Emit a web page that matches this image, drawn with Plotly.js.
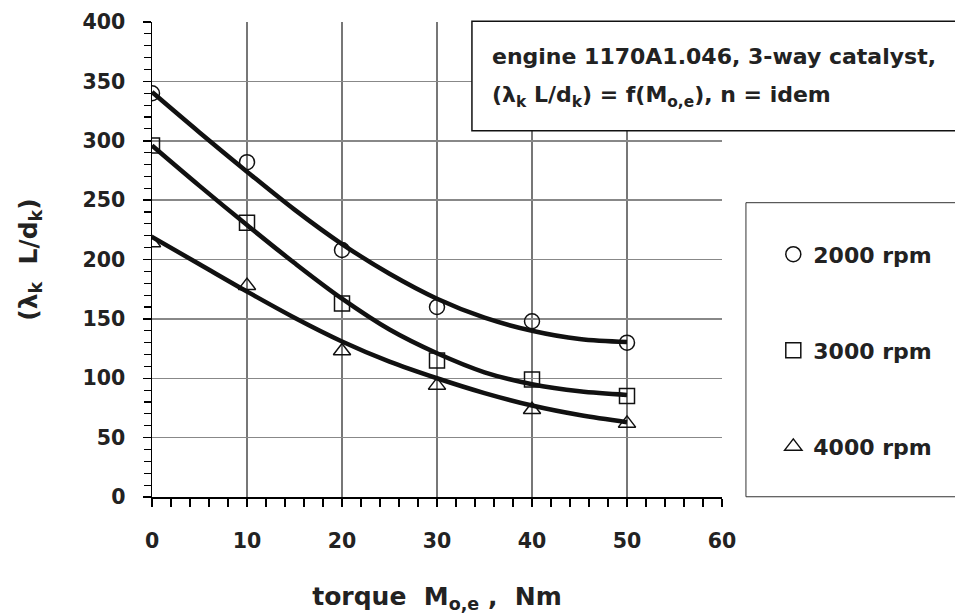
<!DOCTYPE html>
<html>
<head>
<meta charset="utf-8">
<script src="https://cdn.plot.ly/plotly-3.0.1.min.js"></script>
<style>
  html, body { margin: 0; padding: 0; background: #fff; }
  #chart { width: 955px; height: 614px; }
</style>
</head>
<body>
<div id="chart"></div>
<script>
// Measured points
const torque = [0, 10, 20, 30, 40, 50];
const lam2000 = [340, 282, 208, 160, 148, 130];
const lam3000 = [296, 231, 163, 115, 99, 85];
const lam4000 = [214, 178, 123, 94, 73.5, 62];

// Trend curves
const fitTorque = [0, 5, 10, 15, 20, 25, 30, 35, 40, 45, 50];
const fit2000 = [341, 307, 274, 242, 213, 188, 167, 151, 140, 133, 130.5];
const fit3000 = [296, 262, 229, 197, 167, 141, 121, 105, 95, 89, 86];
const fit4000 = [219, 196, 173, 151, 131, 114, 100, 87.5, 77, 69, 63];

const seriesNames = ['2000 rpm', '3000 rpm', '4000 rpm'];
const seriesSymbols = ['circle-open', 'square-open', 'triangle-up-open'];

const FONT = 'DejaVu Sans, Arial, sans-serif';
const TXT = '#222';

const fits = [fit2000, fit3000, fit4000];
const pts = [lam2000, lam3000, lam4000];

const traces = [];
fits.forEach((f, i) => {
  traces.push({
    x: fitTorque, y: f, type: 'scatter', mode: 'lines',
    line: { color: '#111', width: 4.5, shape: 'spline', smoothing: 1 },
    showlegend: false, hoverinfo: 'skip'
  });
});
pts.forEach((p, i) => {
  traces.push({
    x: torque, y: p, type: 'scatter', mode: 'markers',
    name: seriesNames[i], legendgroup: 'g' + i,
    marker: { symbol: seriesSymbols[i], size: 15, color: '#111', line: { width: 1.5, color: '#111' } }
  });
});

const layout = {
  width: 955, height: 614,
  margin: { l: 151.5, r: 233, t: 22, b: 117 },
  paper_bgcolor: '#fff', plot_bgcolor: '#fff',
  font: { family: FONT, color: TXT, size: 20, weight: 'bold' },
  showlegend: true,
  legend: {
    x: 1.09, xanchor: 'left', y: 0.555, yanchor: 'top',
    bgcolor: 'rgba(0,0,0,0)', borderwidth: 0,
    font: { family: FONT, size: 22, color: TXT, weight: 'bold' },
    tracegroupgap: 64.5
  },
  xaxis: {
    range: [0, 60], dtick: 10, tick0: 0,
    showline: true, linecolor: '#000', linewidth: 1.5,
    ticks: 'outside', ticklen: 8, tickcolor: '#000', tickwidth: 1.5,
    showgrid: true, gridcolor: '#777', gridwidth: 1.2,
    zeroline: false,
    minor: { dtick: 2, ticks: 'outside', ticklen: 8, tickcolor: '#000', tickwidth: 1.2, showgrid: false },
    tickfont: { family: FONT, size: 20.5, color: TXT, weight: 'bold' },
    ticklabelstandoff: 17,
    title: { text: 'torque  M<sub>o,e</sub> ,  Nm', font: { family: FONT, size: 25, color: TXT, weight: 'bold' }, standoff: 35 }
  },
  yaxis: {
    range: [0, 400], dtick: 50, tick0: 0,
    showline: true, linecolor: '#000', linewidth: 1.5,
    ticks: 'outside', ticklen: 8, tickcolor: '#000', tickwidth: 1.5,
    showgrid: true, gridcolor: '#888', gridwidth: 1.5,
    zeroline: false,
    minor: { dtick: 10, ticks: 'outside', ticklen: 7, tickcolor: '#000', tickwidth: 1.2, showgrid: false },
    tickfont: { family: FONT, size: 20.5, color: TXT, weight: 'bold' },
    ticklabelstandoff: 13,
    title: { text: '(λ<sub>k</sub>  L/d<sub>k</sub>)', font: { family: FONT, size: 25, color: TXT, weight: 'bold' }, standoff: 38 }
  },
  shapes: [
    { type: 'rect', xref: 'paper', yref: 'paper', x0: 0.5613, x1: 1.6, y0: 0.7712, y1: 1.0015,
      fillcolor: '#fff', line: { color: '#111', width: 1.5 }, layer: 'above' },
    { type: 'rect', xref: 'paper', yref: 'paper', x0: 1.042, x1: 1.6, y0: 0.0005, y1: 0.6196,
      fillcolor: 'rgba(0,0,0,0)', line: { color: '#333', width: 1 }, layer: 'above' }
  ],
  annotations: [
    { xref: 'paper', yref: 'paper', x: 0.5933, y: 0.927, xanchor: 'left', yanchor: 'middle',
      text: 'engine 1170A1.046, 3-way catalyst,', showarrow: false,
      font: { family: FONT, size: 22, color: TXT, weight: 'bold' } },
    { xref: 'paper', yref: 'paper', x: 0.5933, y: 0.8427, xanchor: 'left', yanchor: 'middle',
      text: '(λ<sub>k</sub> L/d<sub>k</sub>) = f(M<sub>o,e</sub>), n = idem', showarrow: false,
      font: { family: FONT, size: 22, color: TXT, weight: 'bold' } }
  ]
};

Plotly.newPlot('chart', traces, layout, { displayModeBar: false, staticPlot: true });
</script>
</body>
</html>
